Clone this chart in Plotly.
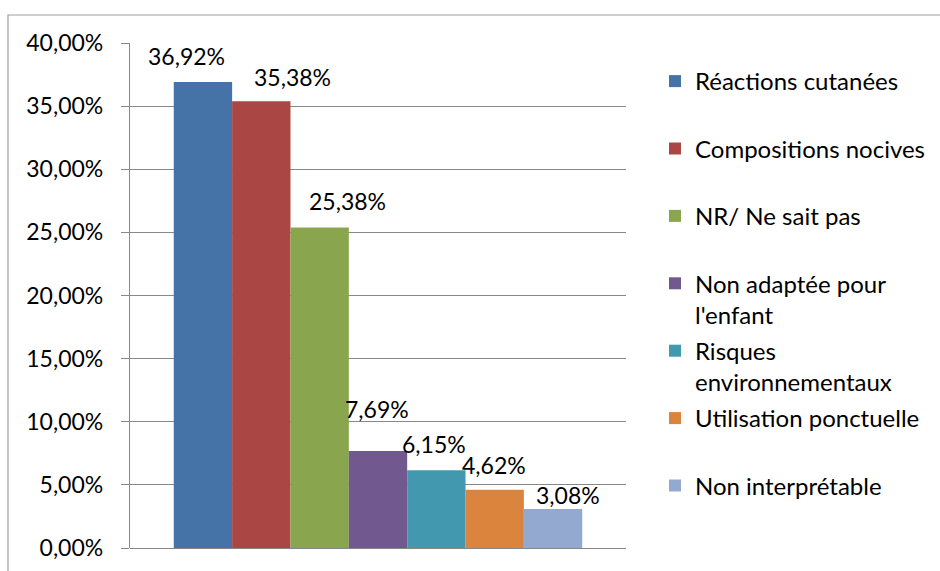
import plotly.graph_objects as go

# ---- data ----
categories = [
    "Réactions cutanées",
    "Compositions nocives",
    "NR/ Ne sait pas",
    "Non adaptée pour<br>l'enfant",
    "Risques<br>environnementaux",
    "Utilisation ponctuelle",
    "Non interprétable",
]
values = [0.3692, 0.3538, 0.2538, 0.0769, 0.0615, 0.0462, 0.0308]
value_labels = ["36,92%", "35,38%", "25,38%", "7,69%", "6,15%", "4,62%", "3,08%"]
y_ticks = [0, 0.05, 0.10, 0.15, 0.20, 0.25, 0.30, 0.35, 0.40]

# ---- styles ----
colors = ["#4572A7", "#AA4643", "#89A54E", "#71588F", "#4198AF", "#DB843D", "#93A9CF"]
label_dx = [-16, 31, 28, -1, -2, -1, 15]
label_dy = [26, 24, 27, 42, 26, 25, 14]
FONT = "Lato"
FS = 23
FS_LEG = 24
grid_col = "#888888"

L, R, T, B = 130, 314, 43, 23
PW, PH = 940 - L - R, 571 - T - B

fig = go.Figure()
for i, (name, v, c) in enumerate(zip(categories, values, colors)):
    legend_name = name if "<br>" in name else name + "<br>\u00a0"
    fig.add_trace(go.Bar(
        x=[i], y=[v], width=[1], name=legend_name,
        marker=dict(color=c, line=dict(width=0)),
        legendgroup=str(i),
        hoverinfo="name+y",
    ))
    fig.add_annotation(
        x=i, y=v, text=value_labels[i], showarrow=False,
        xanchor="center", yanchor="middle",
        xshift=label_dx[i], yshift=label_dy[i],
        font=dict(family=FONT, size=FS, color="#000000"),
    )

# outer border (partially visible)
fig.add_shape(type="rect", xref="paper", yref="paper",
              x0=(8 - L) / PW, x1=(960 - L) / PW,
              y0=-(600 - (T + PH)) / PH, y1=1 + (T - 15) / PH,
              line=dict(color="#A0A0A0", width=1.2), fillcolor="rgba(0,0,0,0)",
              layer="below")

fig.update_layout(
    width=940, height=571,
    margin=dict(l=L, r=R, t=T, b=B, autoexpand=False),
    paper_bgcolor="white", plot_bgcolor="white",
    barmode="overlay",
    separators=", ",
    font=dict(family=FONT, size=FS, color="#000000"),
    showlegend=True,
    legend=dict(
        x=(655 - L) / PW, xanchor="left",
        y=1 - (59 - T) / PH, yanchor="top",
        valign="top",
        font=dict(family=FONT, size=FS_LEG, color="#000000"),
        tracegroupgap=2,
        bgcolor="rgba(0,0,0,0)",
        traceorder="grouped",
    ),
    xaxis=dict(
        range=[-1.25, 7.25], showticklabels=False, showgrid=False,
        zeroline=False, showline=False, ticks="", fixedrange=True,
    ),
    yaxis=dict(
        range=[0, 0.40], tickvals=y_ticks, tickformat=".2%",
        showgrid=True, gridcolor=grid_col, gridwidth=1.3,
        zeroline=True, zerolinecolor=grid_col, zerolinewidth=1.3,
        showline=True, linecolor=grid_col, linewidth=1.3,
        ticks="outside", ticklen=8, tickcolor=grid_col, tickwidth=1.3,
        ticklabelstandoff=13,
        tickfont=dict(family=FONT, size=FS, color="#000000"),
        fixedrange=True,
    ),
)

fig.write_html("out.html", config={"displayModeBar": False},
               post_script="document.body.style.margin='0';")
